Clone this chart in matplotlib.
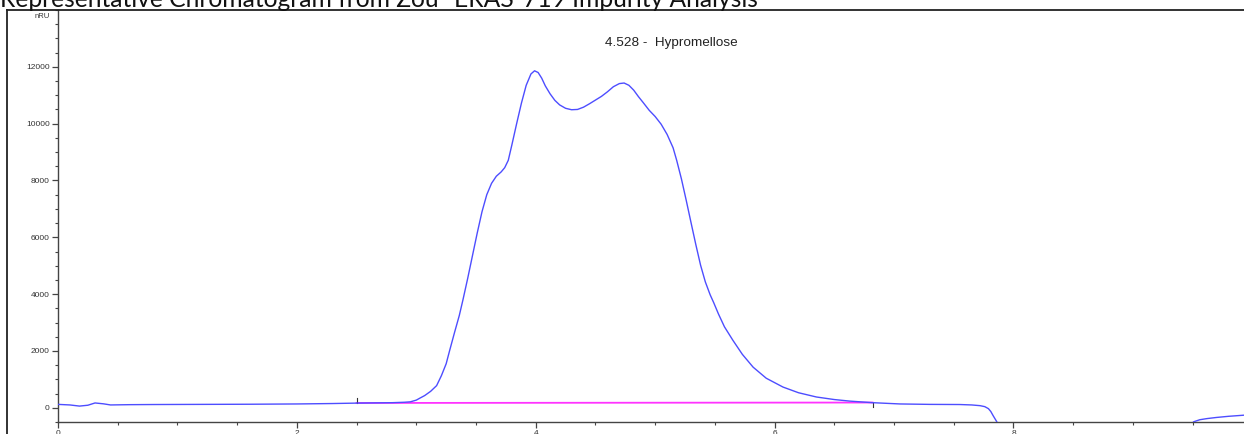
import numpy as np
import matplotlib
matplotlib.use('Agg')
import matplotlib.pyplot as plt
from matplotlib.lines import Line2D
from matplotlib.ticker import MultipleLocator

# retention time (min) and detector response (nRU)
rt = [0.00, 0.10, 0.18, 0.25, 0.31, 0.38, 0.44, 0.60, 0.80, 1.20, 1.60, 2.00, 2.30,
      2.50, 2.70, 2.80, 2.90, 2.95, 3.00, 3.03, 3.07, 3.12, 3.17, 3.21, 3.25, 3.28,
      3.32, 3.36, 3.39, 3.43, 3.47, 3.51, 3.55, 3.59, 3.63, 3.67, 3.71, 3.74, 3.77,
      3.80, 3.84, 3.88, 3.92, 3.96, 3.99, 4.02, 4.05, 4.08, 4.12, 4.16, 4.20, 4.25,
      4.30, 4.35, 4.40, 4.45, 4.50, 4.55, 4.60, 4.65, 4.70, 4.74, 4.78, 4.82, 4.86,
      4.90, 4.95, 5.00, 5.05, 5.10, 5.15, 5.18, 5.22, 5.26, 5.30, 5.34, 5.38, 5.42,
      5.46, 5.49, 5.53, 5.58, 5.65, 5.73, 5.82, 5.93, 6.07, 6.20, 6.35, 6.50, 6.63,
      6.82, 7.05, 7.30, 7.55, 7.65, 7.72, 7.76, 7.79, 7.81, 7.83, 7.86, 7.90, 8.50,
      9.45, 9.51, 9.56, 9.62, 9.70, 9.80, 9.93]
signal = [120, 100, 60, 90, 170, 140, 100, 110, 115, 120, 125, 135, 150,
          165, 175, 180, 195, 210, 270, 340, 430, 580, 780, 1130, 1550, 2030,
          2650, 3250, 3790, 4550, 5350, 6150, 6900, 7500, 7900, 8150, 8300, 8450, 8710,
          9250, 10000, 10720, 11350, 11750, 11860, 11800, 11600, 11330, 11050, 10820, 10660, 10540,
          10490, 10500, 10580, 10700, 10830, 10960, 11120, 11300, 11410, 11430, 11350, 11180, 10950,
          10740, 10470, 10250, 9980, 9620, 9150, 8710, 8050, 7300, 6520, 5750, 5020, 4430,
          3980, 3700, 3300, 2850, 2380, 1880, 1430, 1040, 730, 530, 380, 290, 235,
          180, 135, 120, 115, 100, 75, 40, -30, -130, -280, -490, -900, -2000,
          -700, -490, -420, -380, -340, -300, -260]

# integration baseline of the peak
base_rt = [2.50, 6.82]
base_sig = [170, 185]

peak_rt = 4.528
peak_name = 'Hypromellose'

fig = plt.figure(figsize=(12.44, 4.34), dpi=100)
ax = fig.add_axes([58 / 1244, 12 / 434, 1 - 58 / 1244, (422 - 10) / 434])

ax.plot(rt, signal, color='#4d4dff', linewidth=1.0, zorder=3,
        solid_joinstyle='round')
ax.plot(base_rt, base_sig, color='#ff33ff', linewidth=1.3, zorder=2)
# baseline start / end ticks
ax.plot([base_rt[0], base_rt[0]], [base_sig[0], base_sig[0] + 180], color='#333333', linewidth=0.8)
ax.plot([base_rt[1], base_rt[1]], [base_sig[1], base_sig[1] - 150], color='#333333', linewidth=0.8)

ax.text(4.58, 12830, f'{peak_rt:.3f} -  {peak_name}', fontsize=9.7,
        family='Liberation Sans', color='#222222', va='center', ha='left')

ax.set_xlim(0, 9.93)
ax.set_ylim(-500, 14000)

ax.xaxis.set_major_locator(MultipleLocator(2))
ax.xaxis.set_minor_locator(MultipleLocator(0.5))
ax.yaxis.set_major_locator(MultipleLocator(2000))
ax.yaxis.set_minor_locator(MultipleLocator(500))

for s in ['top', 'right']:
    ax.spines[s].set_visible(False)
for s in ['left', 'bottom']:
    ax.spines[s].set_color('#444444')
    ax.spines[s].set_linewidth(1.0)

ax.tick_params(axis='both', which='major', length=4, width=0.9, color='#444444',
               labelsize=6, labelcolor='#333333', pad=2)
ax.tick_params(axis='both', which='minor', length=2.5, width=0.8, color='#444444')
ax.set_yticks(np.arange(0, 14000, 2000))
for lbl in ax.get_xticklabels() + ax.get_yticklabels():
    lbl.set_family('Liberation Sans')

fig.text(50 / 1244, 1 - 16 / 434, 'nRU', fontsize=5.5, family='Liberation Sans',
         color='#333333', ha='right', va='center')

# outer frame of the chromatogram image
fig.add_artist(Line2D([7 / 1244, 7 / 1244], [0, 1 - 10 / 434], transform=fig.transFigure,
                      color='#222222', linewidth=1.3))
fig.add_artist(Line2D([7 / 1244, 1], [1 - 10 / 434, 1 - 10 / 434], transform=fig.transFigure,
                      color='#222222', linewidth=1.3))

fig.text(0.0, 1 - 7 / 434,
         'Representative Chromatogram from Zou- ERAS-719 Impurity Analysis',
         fontsize=17.7, family='Lato', color='#111111', ha='left', va='baseline')

fig.savefig('out.png', dpi=100, facecolor='white')
